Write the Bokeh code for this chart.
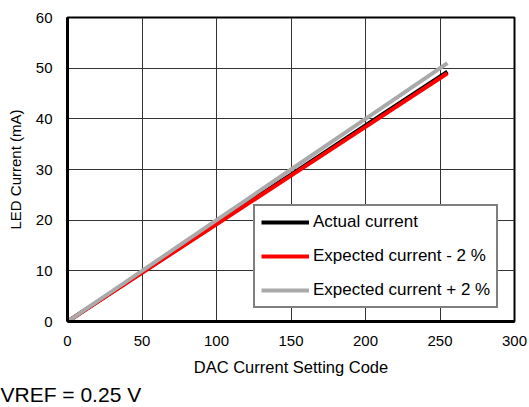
from bokeh.plotting import figure
from bokeh.models import Legend, LegendItem, FixedTicker, Range1d, Title
from bokeh.embed import file_html
from bokeh.resources import INLINE

codes = [0, 50, 100, 150, 200, 255]
actual_current = [0, 9.7, 19.4, 29.0, 38.7, 49.3]
expected_minus2 = [0, 9.6, 19.2, 28.8, 38.4, 49.0]
expected_plus2 = [0, 10.0, 20.0, 30.0, 40.0, 51.0]
x_ticks = [0, 50, 100, 150, 200, 250, 300]
y_ticks = [0, 10, 20, 30, 40, 50, 60]
x_title = "DAC Current Setting Code"
y_title = "LED Current (mA)"
note = "VREF = 0.25 V"

FONT = "Liberation Sans"

p = figure(width=529, height=407, output_backend="svg", toolbar_location=None,
           x_range=Range1d(0, 300), y_range=Range1d(0, 60),
           min_border_left=67, min_border_right=15, min_border_top=17, min_border_bottom=10)
p.background_fill_color = "white"
p.border_fill_color = "white"
p.outline_line_color = "black"
p.outline_line_width = 2

for ax in (p.xaxis[0], p.yaxis[0]):
    ax.major_tick_out = 0
    ax.major_tick_in = 0
    ax.minor_tick_out = 0
    ax.minor_tick_in = 0
    ax.axis_line_color = "black"
    ax.axis_line_width = 3
    ax.major_label_text_font = FONT
    ax.major_label_text_font_size = "15px"
    ax.major_label_text_color = "black"
    ax.axis_label_text_font = FONT
    ax.axis_label_text_font_style = "normal"
    ax.axis_label_text_color = "black"

p.xaxis.ticker = FixedTicker(ticks=x_ticks)
p.yaxis.ticker = FixedTicker(ticks=y_ticks)
p.xaxis.axis_label = x_title
p.yaxis.axis_label = y_title
p.xaxis.axis_label_text_font_size = "16.5px"
p.yaxis.axis_label_text_font_size = "15px"
p.xaxis.major_label_standoff = 14
p.yaxis.major_label_standoff = 15
p.xaxis.axis_label_standoff = 9
p.yaxis.axis_label_standoff = 9

p.grid.grid_line_color = "#333333"
p.grid.grid_line_width = 1
p.grid.grid_line_alpha = 1.0

r1 = p.line(codes, actual_current, line_color="black", line_width=4)
r2 = p.line(codes, expected_minus2, line_color="#ff0000", line_width=4)
r3 = p.line(codes, expected_plus2, line_color="#aaaaaa", line_width=4)

legend = Legend(items=[
    LegendItem(label="Actual current", renderers=[r1]),
    LegendItem(label="Expected current - 2 %", renderers=[r2]),
    LegendItem(label="Expected current + 2 %", renderers=[r3]),
], location=(186, 13))
legend.label_text_font = FONT
legend.label_text_font_size = "17px"
legend.label_text_color = "black"
legend.border_line_color = "black"
legend.border_line_width = 2
legend.background_fill_alpha = 1
legend.glyph_width = 48
legend.glyph_height = 20
legend.label_height = 20
legend.spacing = 14
legend.padding = 6
legend.margin = 0
legend.label_standoff = 4
p.add_layout(legend, "center")

note_title = Title(text=note, align="left", offset=-67, text_font=FONT,
                   text_font_size="21px", text_font_style="normal", text_color="black",
                   standoff=4)
p.add_layout(note_title, "below")

open("out.html", "w").write(file_html(p, INLINE))
